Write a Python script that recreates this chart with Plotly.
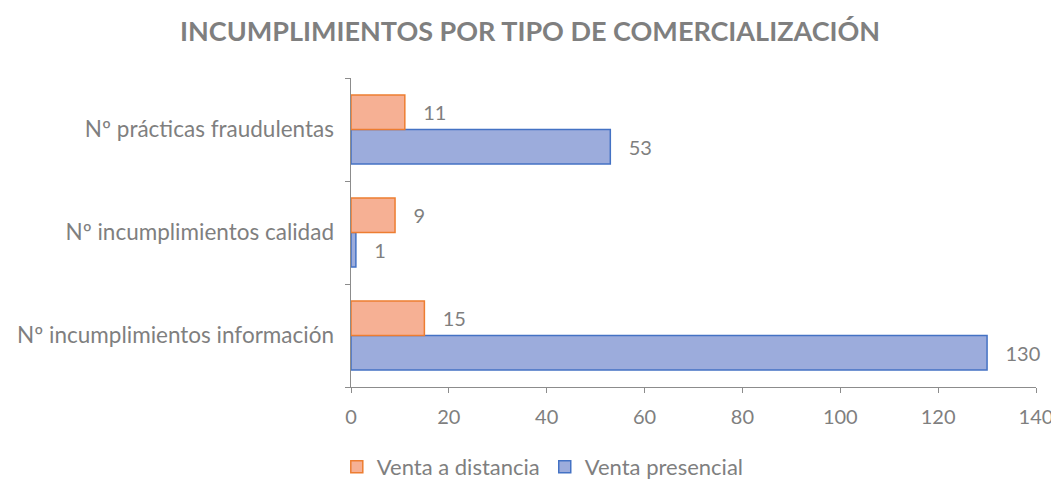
import plotly.graph_objects as go

categories = ["Nº incumplimientos información", "Nº incumplimientos calidad", "Nº prácticas fraudulentas"]
venta_distancia = [15, 9, 11]
venta_presencial = [130, 1, 53]
x_ticks = [0, 20, 40, 60, 80, 100, 120, 140]

grey = "#7F7F7F"
fontfam = "Lato, Open Sans, sans-serif"

fig = go.Figure()
fig.add_trace(go.Bar(
    y=categories, x=venta_presencial, orientation="h", name="Venta presencial",
    marker=dict(color="#9CACDC", line=dict(color="#4472C4", width=1.5)),
    text=[f"   {v}" for v in venta_presencial], textposition="outside",
    textfont=dict(color=grey, size=20, family=fontfam), cliponaxis=False,
))
fig.add_trace(go.Bar(
    y=categories, x=venta_distancia, orientation="h", name="Venta a distancia",
    marker=dict(color="#F6B094", line=dict(color="#ED7D31", width=1.5)),
    text=[f"   {v}" for v in venta_distancia], textposition="outside",
    textfont=dict(color=grey, size=20, family=fontfam), cliponaxis=False,
))

fig.update_layout(
    width=1059, height=484,
    barmode="group", bargap=0.33, bargroupgap=0,
    paper_bgcolor="white", plot_bgcolor="white",
    margin=dict(l=343, r=31, t=70, b=105, autoexpand=False),
    title=dict(text="<b>INCUMPLIMIENTOS POR TIPO DE COMERCIALIZACIÓN</b>",
               font=dict(family=fontfam, size=27, color=grey),
               x=0.493, xanchor="center", xref="container",
               y=0.952, yanchor="middle"),
    font=dict(family=fontfam, color=grey, size=20),
    legend=dict(orientation="h", xref="container", x=0.505, xanchor="center",
                y=-0.259, yanchor="middle", itemwidth=30,
                traceorder="reversed", font=dict(size=22, color=grey)),
    showlegend=True,
)
fig.update_xaxes(range=[0, 140], tickvals=x_ticks, showgrid=False, zeroline=False,
                 showline=True, linecolor="#8C8C8C", linewidth=1,
                 ticks="outside", ticklen=5, tickcolor="#8C8C8C", ticklabelstandoff=7,
                 tickfont=dict(size=20, color=grey), automargin=False)
fig.update_yaxes(type="category", categoryorder="array", categoryarray=categories,
                 showgrid=False, showline=True, linecolor="#8C8C8C", linewidth=1,
                 ticks="outside", ticklen=5, tickcolor="#8C8C8C", tickson="boundaries",
                 ticksuffix="  ", tickfont=dict(size=22.5, color=grey), automargin=False)

fig.write_html("out.html")
